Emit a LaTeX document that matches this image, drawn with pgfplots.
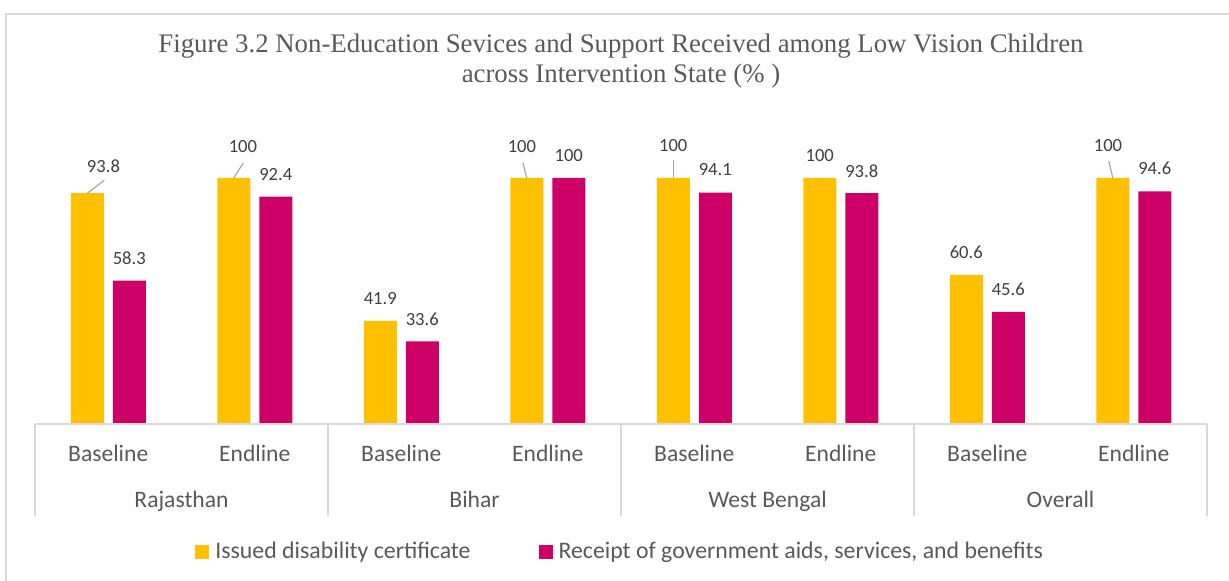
\documentclass[border=0pt]{standalone}
\usepackage{pgfplots}
\pgfplotsset{compat=1.18}
\usepackage{fontspec}
\setmainfont{Carlito}
\newfontfamily\titlefont{Liberation Serif}
\definecolor{cyel}{HTML}{FFC000}
\definecolor{cmag}{HTML}{CC0066}
\definecolor{ctxt}{HTML}{595959}
\definecolor{clab}{HTML}{404040}
\definecolor{cgrid}{HTML}{D9D9D9}
\definecolor{clead}{HTML}{A6A6A6}
\begin{document}
\begin{tikzpicture}[x=0.5pt,y=0.5pt]
\useasboundingbox (0,0) rectangle (1229,581);
\draw[cgrid, line width=1pt] (6,0) -- (6,567) -- (1229,567);
\node[font=\titlefont\fontsize{13.4}{16}\selectfont, text=ctxt, anchor=base] at (621,528) {Figure 3.2 Non-Education Sevices and Support Received among Low Vision Children};
\node[font=\titlefont\fontsize{13.4}{16}\selectfont, text=ctxt, anchor=base] at (621,498) {across Intervention State (\% )};
\begin{axis}[
  at={(17.5pt,78.5pt)}, anchor=south west,
  width=586pt, height=123pt, scale only axis,
  xmin=-0.5, xmax=7.5, ymin=0, ymax=100,
  axis line style={draw=none},
  ytick=\empty,
  xtick={0,...,7},
  xticklabels={Baseline,Endline,Baseline,Endline,Baseline,Endline,Baseline,Endline},
  major tick length=0pt, tick style={draw=none},
  xticklabel style={font=\fontsize{11.8}{14}\selectfont, text=ctxt, anchor=center, yshift=-14.5pt},
  clip=false,
  /pgf/number format/assume math mode=true,
  legend columns=2,
  legend image code/.code={\fill[#1] (0pt,-3.5pt) rectangle (7pt,3.5pt);},
  legend style={draw=none, fill=none, at={(0.1365,0)}, anchor=west, yshift=-64pt,
    inner sep=0pt, font=\fontsize{11.9}{14}\selectfont, text=ctxt,
    nodes={inner sep=0pt},
    /tikz/every odd column/.append style={column sep=3pt},
    /tikz/every even column/.append style={column sep=34pt}},
]
\addplot[ybar, bar width=16.5pt, bar shift=-10.5pt, fill=cyel, draw=none]
  coordinates {(0,93.8)(1,100)(2,41.9)(3,100)(4,100)(5,100)(6,60.6)(7,100)};
\addlegendentry{Issued disability certificate}
\addplot[ybar, bar width=16.5pt, bar shift=10.5pt, fill=cmag, draw=none,
  nodes near coords,
  nodes near coords style={font=\fontsize{9.3}{11}\selectfont, text=clab, anchor=center, xshift=10.5pt, yshift=11.25pt}]
  coordinates {(0,58.3)(1,92.4)(2,33.6)(3,100)(4,94.1)(5,93.8)(6,45.6)(7,94.6)};
\addlegendentry{Receipt of government aids, services, and benefits}
% yellow data labels
\tikzset{ylab/.style={font=\fontsize{9.3}{11}\selectfont, text=clab, anchor=center}}
\node[ylab, xshift=-2.4pt, yshift=13.7pt] at (axis cs:0,93.8) {93.8};
\node[ylab, xshift=-5.9pt, yshift=15.5pt] at (axis cs:1,100) {100};
\node[ylab, xshift=-10.5pt, yshift=11.25pt] at (axis cs:2,41.9) {41.9};
\node[ylab, xshift=-12.9pt, yshift=15.5pt] at (axis cs:3,100) {100};
\node[ylab, xshift=-10.5pt, yshift=16pt] at (axis cs:4,100) {100};
\node[ylab, xshift=-10.5pt, yshift=11.25pt] at (axis cs:5,100) {100};
\node[ylab, xshift=-10.5pt, yshift=11.25pt] at (axis cs:6,60.6) {60.6};
\node[ylab, xshift=-12.9pt, yshift=16pt] at (axis cs:7,100) {100};
% leader lines
\draw[clead, line width=0.6pt] ([xshift=-10.5pt]axis cs:0,93.8) -- ++(8.5pt,6.5pt);
\draw[clead, line width=0.6pt] ([xshift=-10.5pt]axis cs:1,100) -- ++(4.75pt,7.5pt);
\draw[clead, line width=0.6pt] ([xshift=-10.5pt]axis cs:3,100) -- ++(-1.9pt,7.5pt);
\draw[clead, line width=0.6pt] ([xshift=-10.5pt]axis cs:4,100) -- ++(0pt,9pt);
\draw[clead, line width=0.6pt] ([xshift=-10.5pt]axis cs:7,100) -- ++(-2pt,8.5pt);
% category axis
\draw[cgrid, line width=1pt] (axis cs:-0.5,0) -- (axis cs:7.5,0);
\draw[cgrid, line width=1pt] (axis cs:-0.5,0) -- ++(0pt,-46pt);
\draw[cgrid, line width=1pt] (axis cs:1.5,0) -- ++(0pt,-46pt);
\draw[cgrid, line width=1pt] (axis cs:3.5,0) -- ++(0pt,-46pt);
\draw[cgrid, line width=1pt] (axis cs:5.5,0) -- ++(0pt,-46pt);
\draw[cgrid, line width=1pt] (axis cs:7.5,0) -- ++(0pt,-46pt);
\tikzset{glab/.style={font=\fontsize{11.8}{14}\selectfont, text=ctxt, anchor=base, yshift=-42pt}}
\node[glab] at (axis cs:0.5,0) {Rajasthan};
\node[glab] at (axis cs:2.5,0) {Bihar};
\node[glab] at (axis cs:4.5,0) {West Bengal};
\node[glab] at (axis cs:6.5,0) {Overall};
\end{axis}
\end{tikzpicture}
\end{document}
